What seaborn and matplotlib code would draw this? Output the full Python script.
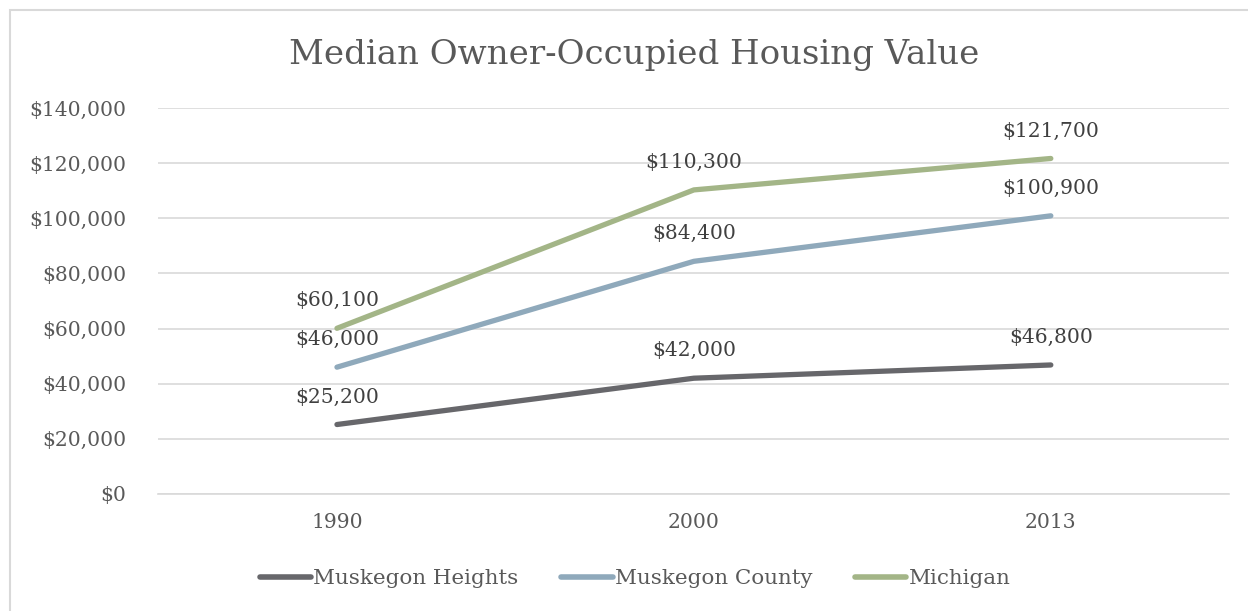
import seaborn as sns
import matplotlib.pyplot as plt
import pandas as pd
from matplotlib.patches import Rectangle

# values
years = ["1990", "2000", "2013"]
heights = [25200, 42000, 46800]
county = [46000, 84400, 100900]
michigan = [60100, 110300, 121700]
series_names = ["Muskegon Heights", "Muskegon County", "Michigan"]
colors = ["#67676b", "#8fa9bb", "#a3b587"]

df = pd.DataFrame({
    "year": years * 3,
    "value": heights + county + michigan,
    "place": [n for n in series_names for _ in years],
})

sns.set_style("white")
plt.rcParams["font.family"] = ["DejaVu Serif"]
text_color = "#595959"
fs = 14.6

fig = plt.figure(figsize=(12.48, 6.11), dpi=100)
ax = fig.add_axes([0.127, 0.1915, 0.858, 0.6317])

sns.lineplot(data=df, x="year", y="value", hue="place", palette=colors,
             hue_order=series_names, linewidth=3.8, ax=ax, sort=False,
             solid_capstyle="round")

# data labels above each point
for i, row in df.iterrows():
    ax.annotate(f"${row['value']:,}", (years.index(row["year"]), row["value"]),
                xytext=(0, 13), textcoords="offset points", ha="center",
                va="bottom", fontsize=fs, color="#404040")

ax.set_xlim(-0.5, 2.5)
ax.set_ylim(0, 140000)
ax.set_yticks(range(0, 140001, 20000))
ax.set_yticklabels([f"${v:,}" for v in range(0, 140001, 20000)])
ax.yaxis.grid(True, color="#d9d9d9", linewidth=1.2)
ax.tick_params(axis="both", length=0, labelsize=fs, labelcolor=text_color)
ax.tick_params(axis="y", pad=23)
ax.tick_params(axis="x", pad=14)
for s in ["top", "right", "left"]:
    ax.spines[s].set_visible(False)
ax.spines["bottom"].set_color("#d9d9d9")
ax.spines["bottom"].set_linewidth(1.2)
ax.set_xlabel("")
ax.set_ylabel("")

fig.text(0.508, 0.91, "Median Owner-Occupied Housing Value", ha="center",
         va="center", fontsize=24.5, color=text_color)

leg = ax.legend(loc="center", bbox_to_anchor=(0.445, -0.22), ncol=3,
                frameon=False, fontsize=15.4, handlelength=2.4,
                handletextpad=0.1, columnspacing=2.0)
for t in leg.get_texts():
    t.set_color(text_color)
for h in leg.get_lines():
    h.set_linewidth(4)
    h.set_solid_capstyle("round")

# chart frame
fig.patches.append(Rectangle((10 / 1248, -0.05), 1.1, 1 - 10 / 611 + 0.05,
                             transform=fig.transFigure, fill=False,
                             edgecolor="#d9d9d9", linewidth=1.5))

fig.savefig("out.png", dpi=100)
